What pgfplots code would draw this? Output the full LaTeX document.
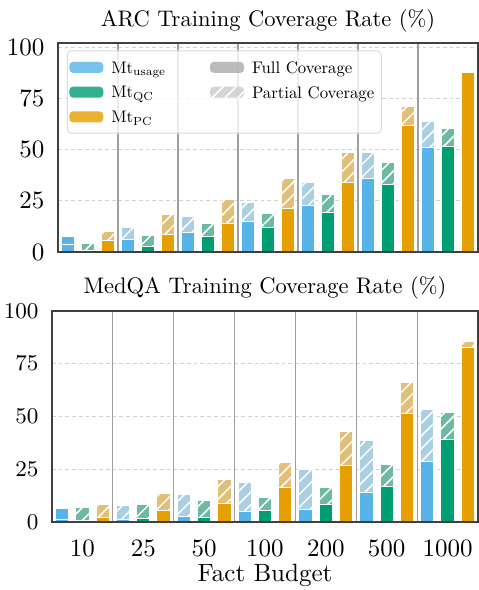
\documentclass[border=0pt]{standalone}
\usepackage{pgfplots}
\pgfplotsset{compat=1.18}
\usepackage{pgfplotstable}
\usetikzlibrary{patterns.meta}

\definecolor{cusage}{HTML}{56B4E9}
\definecolor{cqc}{HTML}{009E73}
\definecolor{cpc}{HTML}{E69F00}
\definecolor{lusage}{RGB}{170,206,226}
\definecolor{lqc}{RGB}{110,185,164}
\definecolor{lpc}{RGB}{226,191,120}
\definecolor{lgray}{RGB}{205,202,200}
\definecolor{fgray}{RGB}{170,170,170}

\tikzset{hatch/.style={postaction={pattern={Lines[angle=45,distance=3.6pt,line width=0.6pt]}, pattern color=white}}}

% full / total coverage, groups 0..6 = budgets 10..1000
\pgfplotstableread{
g uf ut qf qt pf pt
0 3.8 7.8 0.8 4.1 5.4 9.8
1 6.2 11.9 2.8 8.2 8.7 18.3
2 9.6 17.2 7.5 13.7 13.9 25.5
3 15.0 24.3 11.9 18.6 21.1 35.8
4 22.5 33.8 19.3 27.9 33.8 48.7
5 35.8 48.5 33.2 43.6 61.6 70.9
6 51.1 63.7 51.3 60.1 87.9 87.9
}\arc
\pgfplotstableread{
g uf ut qf qt pf pt
0 1.1 6.3 0.8 7.1 2.2 8.5
1 1.4 7.9 1.9 8.2 5.5 13.5
2 2.8 13.1 2.4 10.2 8.8 20.2
3 4.9 18.6 5.4 11.5 16.4 28.2
4 6.1 25.0 8.5 16.4 26.8 42.7
5 14.2 38.6 16.7 27.2 51.3 66.0
6 28.8 53.5 39.1 51.8 82.7 85.5
}\medqa

\newcommand{\leg}[1]{\scalebox{0.67}{#1}}

\pgfplotsset{
  patch/.style={legend image code/.code={\path[##1] (0pt,-2.2pt) rectangle (13.6pt,2.2pt);}},
  cov/.style={
    scale only axis,
    xmin=-0.5, xmax=6.5,
    ymin=0,
    ybar, bar width=0.22,
    xtick={0,...,6},
    ytick={0,25,50,75,100},
    major tick length=0pt,
    axis line style={black!75, line width=0.7pt},
    ymajorgrids,
    y grid style={gray!35, dash pattern=on 1.5pt off 1.2pt, line width=0.4pt},
    extra x ticks={0.5,1.5,...,5.5},
    extra x tick labels={},
    extra x tick style={grid=major, major grid style={solid, gray!75, line width=0.5pt}},
    yticklabel style={anchor=east, inner sep=0pt, xshift=-5.2pt},
    every axis title/.style={at={(0.5,1)}, anchor=base, font=\fontsize{10}{12}\selectfont},
    every axis plot/.append style={draw=white, line width=0.4pt},
  },
}

\begin{document}
\begin{tikzpicture}
\useasboundingbox (-20.8pt,-27.1pt) rectangle (170.8pt,208.9pt);

% ARC
\begin{axis}[cov,
  at={(2.4pt,108.1pt)}, anchor=south west,
  width=168pt, height=83.7pt,
  ymax=102.2,
  xticklabels={},
  yticklabel style={font=\fontsize{10}{12}\selectfont},
  title={\scalebox{0.9}{ARC Training Coverage Rate (\%)}},
  title style={yshift=6.4pt},
  legend columns=2,
  legend cell align=left,
  legend style={at={(0.021,0.963)}, anchor=north west,
    draw=black!15, rounded corners=1.5pt, fill=white, fill opacity=0.8, text opacity=1,
    font=\fontsize{10}{12}\selectfont, inner xsep=0.8pt, inner ysep=2.2pt,
    nodes={inner sep=2pt, text depth=0pt}, row sep=1.2pt,
    /tikz/every odd column/.append style={column sep=1.2pt},
    /tikz/every even column/.append style={column sep=15.6pt}},
]
\addlegendimage{patch, fill=cusage, draw=none}
\addlegendentry{\leg{Mt$_{\mathrm{usage}}$}}
\addlegendimage{patch, fill=fgray, draw=none}
\addlegendentry{\leg{Full Coverage}}
\addlegendimage{patch, fill=cqc, draw=none}
\addlegendentry{\leg{Mt$_{\mathrm{QC}}$}}
\addlegendimage{patch, fill=lgray, draw=none, hatch}
\addlegendentry{\leg{Partial Coverage}}
\addlegendimage{patch, fill=cpc, draw=none}
\addlegendentry{\leg{Mt$_{\mathrm{PC}}$}}

\addplot[fill=cusage, bar shift=-0.3333, skip coords between index={1}{7}] table[x=g, y=ut] {\arc};
\addplot[fill=lusage, hatch, bar shift=-0.3333, skip coords between index={0}{1}] table[x=g, y=ut] {\arc};
\addplot[fill=lqc, hatch, bar shift=0] table[x=g, y=qt] {\arc};
\addplot[fill=lpc, hatch, bar shift=0.3333] table[x=g, y=pt] {\arc};
\addplot[fill=cusage, bar shift=-0.3333] table[x=g, y=uf] {\arc};
\addplot[fill=cqc, bar shift=0] table[x=g, y=qf] {\arc};
\addplot[fill=cpc, bar shift=0.3333] table[x=g, y=pf] {\arc};
\draw[black!75, line width=0.7pt] (rel axis cs:0,0) rectangle (rel axis cs:1,1);
\end{axis}

% MedQA
\begin{axis}[cov,
  at={(0pt,0pt)}, anchor=south west,
  width=170.4pt, height=84.6pt,
  ymax=100,
  xticklabels={10,25,50,100,200,500,1000},
  xticklabel style={anchor=base, yshift=-13.8pt, font=\fontsize{10}{12}\selectfont},
  yticklabel style={font=\fontsize{8.8}{10}\selectfont},
  xlabel={Fact Budget},
  xlabel style={at={(0.5,0)}, anchor=base, yshift=-23.8pt, font=\fontsize{10}{12}\selectfont},
  title={\scalebox{0.9}{MedQA Training Coverage Rate (\%)}},
  title style={yshift=7pt},
]
\addplot[fill=cusage, bar shift=-0.3333, skip coords between index={1}{7}] table[x=g, y=ut] {\medqa};
\addplot[fill=lusage, hatch, bar shift=-0.3333, skip coords between index={0}{1}] table[x=g, y=ut] {\medqa};
\addplot[fill=lqc, hatch, bar shift=0] table[x=g, y=qt] {\medqa};
\addplot[fill=lpc, hatch, bar shift=0.3333] table[x=g, y=pt] {\medqa};
\addplot[fill=cusage, bar shift=-0.3333] table[x=g, y=uf] {\medqa};
\addplot[fill=cqc, bar shift=0] table[x=g, y=qf] {\medqa};
\addplot[fill=cpc, bar shift=0.3333] table[x=g, y=pf] {\medqa};
\draw[black!75, line width=0.7pt] (rel axis cs:0,0) rectangle (rel axis cs:1,1);
\end{axis}
\end{tikzpicture}
\end{document}
